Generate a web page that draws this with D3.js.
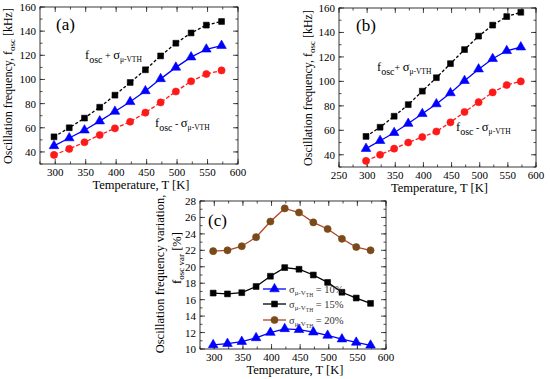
<!DOCTYPE html>
<html>
<head>
<meta charset="utf-8">
<script src="https://cdn.jsdelivr.net/npm/d3@7"></script>
<style>
  body { margin: 0; background: #fff; }
  svg { display: block; font-family: "Liberation Serif", "Times New Roman", serif; }
</style>
</head>
<body>
<svg id="chart" width="550" height="379"></svg>
<script>
// temperatures (K), 25 C .. 300 C
var temps = [298, 323, 348, 373, 398, 423, 448, 473, 498, 523, 548, 573];

// panel (a)
var aPlus  = [52.5, 60, 68, 77, 87, 97.5, 108, 119.5, 130, 138.5, 145, 148];
var aNom   = [45, 51.5, 58, 65.5, 73.5, 81.5, 90.5, 100.5, 110, 118.5, 125, 128];
var aMinus = [37.5, 42.5, 48, 54, 59.5, 65, 72.5, 81, 90, 98.5, 104.5, 107.5];

// panel (b)
var bPlus  = [55, 62.5, 71.5, 81, 92, 103, 114.5, 126, 137, 146, 153, 156.5];
var bNom   = [45, 51.5, 58, 65.5, 73.5, 81.5, 90.5, 100.5, 110, 118.5, 125, 128];
var bMinus = [35, 40, 45, 50, 54.5, 59, 66.5, 75, 83, 91, 97, 100];

// panel (c) variation %
var var10 = [10.5, 10.65, 10.9, 11.35, 12.0, 12.45, 12.35, 12.05, 11.65, 11.2, 10.8, 10.45];
var var15 = [16.8, 16.7, 16.85, 17.6, 18.85, 19.9, 19.7, 19.0, 18.1, 16.9, 16.2, 15.55];
var var20 = [21.9, 22.0, 22.5, 23.6, 25.5, 27.1, 26.6, 25.4, 24.6, 23.4, 22.4, 22.0];
var legendLabels = ["10%", "15%", "20%"];

// ticks
var freqTicks = [40, 60, 80, 100, 120, 140, 160];
var tempTicksA = [300, 350, 400, 450, 500, 550, 600];
var tempTicksB = [250, 300, 350, 400, 450, 500, 550, 600];
var varTicks = [10, 12, 14, 16, 18, 20, 22, 24, 26, 28];

var svg = d3.select("#chart");

function sym(g, type, color, size) {
  var s = d3.symbol().type(type).size(size);
  return g.append("path").attr("d", s()).attr("fill", color).attr("stroke", color).attr("stroke-width", 0.6);
}

function drawPanel(o) {
  var x = d3.scaleLinear().domain(o.xd).range([o.x0, o.x1]);
  var y = d3.scaleLinear().domain(o.yd).range([o.y1, o.y0]);
  var g = svg.append("g");

  // frame
  g.append("rect").attr("x", o.x0).attr("y", o.y0)
    .attr("width", o.x1 - o.x0).attr("height", o.y1 - o.y0)
    .attr("fill", "none").attr("stroke", "#222").attr("stroke-width", 0.9);

  // inward ticks on all sides
  var minorX = d3.range(o.xd[0], o.xd[1] + 0.1, 25);
  var minorY = d3.range(o.yd[0], o.yd[1] + 0.01, o.yMinor);
  function tickLines(vals, len) {
    vals.forEach(function(v) {
      var px = x(v);
      g.append("line").attr("x1", px).attr("x2", px).attr("y1", o.y1).attr("y2", o.y1 - len);
      g.append("line").attr("x1", px).attr("x2", px).attr("y1", o.y0).attr("y2", o.y0 + len);
    });
  }
  function tickLinesY(vals, len) {
    vals.forEach(function(v) {
      var py = y(v);
      g.append("line").attr("y1", py).attr("y2", py).attr("x1", o.x0).attr("x2", o.x0 + len);
      g.append("line").attr("y1", py).attr("y2", py).attr("x1", o.x1).attr("x2", o.x1 - len);
    });
  }
  tickLines(minorX, 2.5);
  tickLines(o.xTicks, 5);
  tickLinesY(minorY, 2.5);
  tickLinesY(o.yTicks, 5);
  g.selectAll("line").attr("stroke", "#222").attr("stroke-width", 0.8);

  // tick labels
  g.selectAll(".xl").data(o.xTicks).enter().append("text")
    .attr("x", function(d) { return x(d); }).attr("y", o.y1 + 12)
    .attr("text-anchor", "middle").attr("font-size", 11).text(function(d) { return d; });
  g.selectAll(".yl").data(o.yTicks).enter().append("text")
    .attr("x", o.x0 - 4).attr("y", function(d) { return y(d) + 4; })
    .attr("text-anchor", "end").attr("font-size", 11).text(function(d) { return d; });

  // x title
  g.append("text").attr("x", (o.x0 + o.x1) / 2 + 2).attr("y", o.y1 + 25)
    .attr("text-anchor", "middle").attr("font-size", 12.5).text("Temperature, T [K]");

  // series
  o.series.forEach(function(s) {
    var line = d3.line().x(function(d, i) { return x(temps[i]); }).y(function(d) { return y(d); });
    g.append("path").datum(s.values).attr("d", line)
      .attr("fill", "none").attr("stroke", s.line || s.color).attr("stroke-width", 1.3)
      .attr("stroke-dasharray", s.dash || null);
    s.values.forEach(function(v, i) {
      sym(g, s.type, s.color, s.size).attr("transform", "translate(" + x(temps[i]) + "," + y(v) + ")");
    });
  });

  // panel letter
  g.append("text").attr("x", o.tag[0]).attr("y", o.tag[1]).attr("font-size", 17).text(o.tag[2]);
  return { x: x, y: y, g: g };
}

function freqTitle(cx, cy) {
  var t = svg.append("text").attr("transform", "translate(" + cx + "," + cy + ") rotate(-90)")
    .attr("text-anchor", "middle").attr("font-size", 12);
  t.append("tspan").text("Oscillation frequency, f");
  t.append("tspan").attr("font-size", 9).attr("dy", 3).text("osc");
  t.append("tspan").attr("dy", -3).text(" [kHz]");
}

function sigmaLabel(px, py, sign) {
  var t = svg.append("text").attr("x", px).attr("y", py).attr("font-size", 12.5);
  t.append("tspan").text("f");
  t.append("tspan").attr("font-size", 10).attr("dy", 4).text("osc");
  t.append("tspan").attr("font-size", 10).attr("dy", -4).text(sign);
  t.append("tspan").text("\u03c3");
  t.append("tspan").attr("font-size", 7.5).attr("dy", 3).text("\u03bc-VTH");
}

var seriesStyle = function(plus, nom, minus) {
  return [
    { values: plus, color: "#000", type: d3.symbolSquare, size: 34, dash: "3,2" },
    { values: nom, color: "#0000ff", type: d3.symbolTriangle, size: 40 },
    { values: minus, color: "#ff1a1a", type: d3.symbolCircle, size: 40, dash: "4,2" }
  ];
};

drawPanel({ x0: 40, x1: 238, y0: 7, y1: 164, xd: [275, 600], yd: [30, 160],
  xTicks: tempTicksA, yTicks: freqTicks, yMinor: 10, tag: [56, 30, "(a)"],
  series: seriesStyle(aPlus, aNom, aMinus) });
freqTitle(12, 86);
sigmaLabel(85, 59, " + ");
sigmaLabel(155, 127, " - ");

drawPanel({ x0: 339, x1: 536, y0: 8, y1: 167, xd: [250, 600], yd: [30, 160],
  xTicks: tempTicksB, yTicks: freqTicks, yMinor: 10, tag: [356, 31, "(b)"],
  series: seriesStyle(bPlus, bNom, bMinus) });
freqTitle(312, 88);
sigmaLabel(377, 71, "+ ");
sigmaLabel(456, 131, " - ");

var cSeries = [
  { values: var10, color: "#0000ff", type: d3.symbolTriangle, size: 40 },
  { values: var15, color: "#000", type: d3.symbolSquare, size: 34 },
  { values: var20, color: "#7a4a1a", line: "#b0452a", type: d3.symbolCircle, size: 40 }
];
drawPanel({ x0: 200, x1: 386, y0: 201, y1: 349, xd: [275, 600], yd: [10, 28],
  xTicks: tempTicksA, yTicks: varTicks, yMinor: 1, tag: [208, 226, "(c)"],
  series: cSeries });

// y title (c), two lines
svg.append("text").attr("transform", "translate(164,274) rotate(-90)")
  .attr("text-anchor", "middle").attr("font-size", 12.5).text("Oscillation frequency variation,");
var ct2 = svg.append("text").attr("transform", "translate(181,258) rotate(-90)")
  .attr("text-anchor", "middle").attr("font-size", 12.5);
ct2.append("tspan").text("f");
ct2.append("tspan").attr("font-size", 9).attr("dy", 3).text("osc var");
ct2.append("tspan").attr("dy", -3).text(" [%]");

// legend (c)
var legY = [289, 304, 320];
cSeries.forEach(function(s, i) {
  var lg = svg.append("g");
  lg.append("line").attr("x1", 263).attr("x2", 286).attr("y1", legY[i]).attr("y2", legY[i])
    .attr("stroke", s.line || s.color).attr("stroke-width", 1.3);
  sym(lg, s.type, s.color, s.size).attr("transform", "translate(274.5," + legY[i] + ")");
  var t = lg.append("text").attr("x", 289).attr("y", legY[i] + 4).attr("font-size", 10.5).attr("fill", "#333");
  t.append("tspan").text("\u03c3");
  t.append("tspan").attr("font-size", 7).attr("dy", 2).text("\u03bc-V");
  t.append("tspan").attr("font-size", 5.5).attr("dy", 2).text("TH");
  t.append("tspan").attr("dy", -4).text(" = " + legendLabels[i]);
});
</script>
</body>
</html>
